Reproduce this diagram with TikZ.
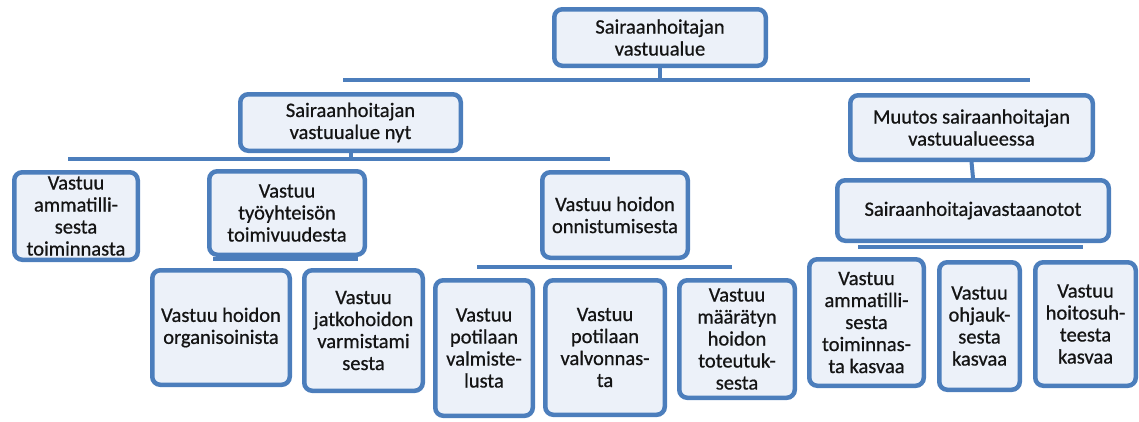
\documentclass[tikz,border=0pt]{standalone}
\usepackage{fontspec}
\setmainfont{Carlito}[BoldFont=Carlito, BoldFeatures={FakeBold=0.7}]
\definecolor{bdr}{RGB}{76,126,188}
\definecolor{fil}{RGB}{236,241,249}
\definecolor{txt}{RGB}{20,20,20}
\tikzset{
  box/.style={draw=bdr, line width=4.5pt, fill=fil, rounded corners=8pt, align=center,
    inner sep=0pt, text=txt, font=\bfseries\fontsize{20.5}{22}\selectfont},
  bar/.style={draw=bdr, line width=4pt}
}
\newcommand\bx[6]{\node[box, minimum width={(#4-#2-4.5)*1pt}, minimum height={(#5-#3-4.5)*1pt}]
  (#1) at ({(#2+#4)/2},{-(#3+#5)/2}) {#6};}
\begin{document}
\begin{tikzpicture}[x=1pt,y=1pt]
\useasboundingbox (0,0) rectangle (1139,-421);
\bx{root}{552}{7}{768}{68}{Sairaanhoitajan\\vastuualue}
\bx{nyt}{238}{92}{463}{153}{Sairaanhoitajan\\vastuualue nyt}
\bx{muutos}{848}{93}{1095}{162}{Muutos sairaanhoitajan\\vastuualueessa}
\bx{vast}{835}{178}{1111}{243}{Sairaanhoitajavastaanotot}
\bx{amma}{12}{170}{140}{262}{Vastuu\\ammatilli-\\sesta\\toiminnasta}
\bx{tyo}{207}{169}{367}{257}{Vastuu\\työyhteisön\\toimivuudesta}
\bx{org}{150}{268}{292}{387}{Vastuu hoidon\\organisoinista}
\bx{jatko}{302}{268}{425}{393}{Vastuu\\jatkohoidon\\varmistami\\sesta}
\bx{onn}{540}{170}{690}{260}{Vastuu hoidon\\onnistumisesta}
\bx{valm}{433}{278}{535}{418}{Vastuu\\potilaan\\valmiste-\\lusta}
\bx{valv}{543}{278}{667}{417}{Vastuu\\potilaan\\valvonnas-\\ta}
\bx{maar}{677}{278}{797}{400}{Vastuu\\määrätyn\\hoidon\\toteutuk-\\sesta}
\bx{ammb}{807}{257}{926}{388}{Vastuu\\ammatilli-\\sesta\\toiminnas-\\ta kasvaa}
\bx{ohj}{937}{260}{1022}{392}{Vastuu\\ohjauk-\\sesta\\kasvaa}
\bx{hoito}{1033}{260}{1138}{388}{Vastuu\\hoitosuh-\\teesta\\kasvaa}
% bars
\coordinate (b1l) at (343,-80); \coordinate (b1r) at (1030,-80);
\draw[bar] (b1l) -- (b1r);
\draw[bar] (root.south) -- (root.south |- b1l);
\coordinate (b2l) at (68,-159); \coordinate (b2r) at (610,-159);
\draw[bar] (b2l) -- (b2r);
\draw[bar] (nyt.south) -- (nyt.south |- b2l);
\draw[bar] (muutos.south) -- (vast.north);
\coordinate (b3l) at (858,-247); \coordinate (b3r) at (1083,-247);
\draw[bar] (b3l) -- (b3r);
\coordinate (b4l) at (213,-259); \coordinate (b4r) at (358,-259);
\draw[bar] (b4l) -- (b4r);
\coordinate (b5l) at (477,-267); \coordinate (b5r) at (732,-267);
\draw[bar] (b5l) -- (b5r);
\end{tikzpicture}
\end{document}
